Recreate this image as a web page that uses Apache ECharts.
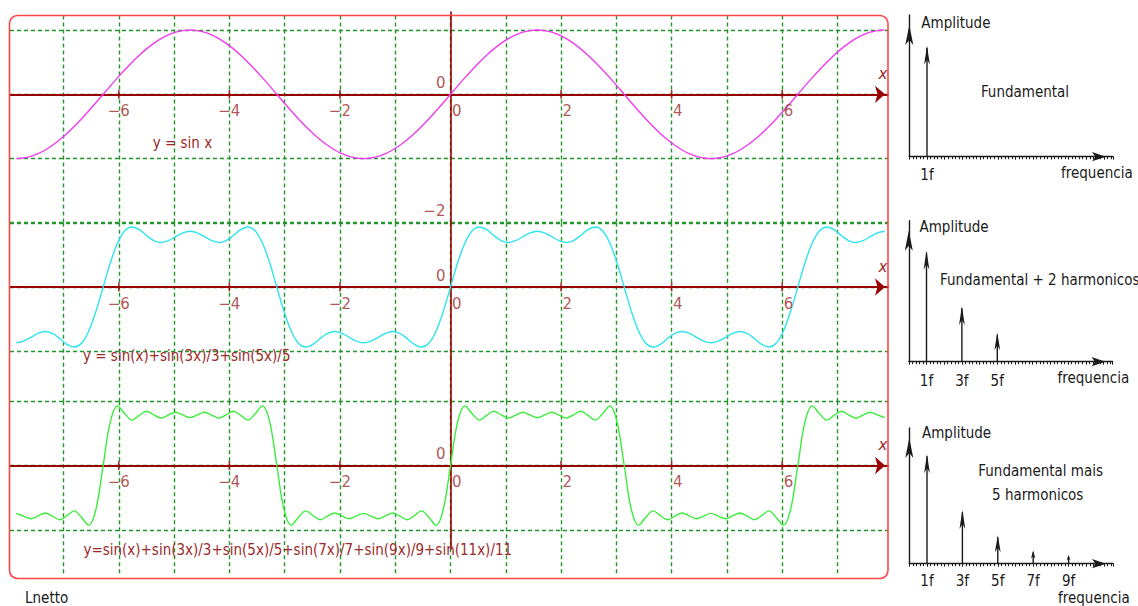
<!DOCTYPE html>
<html><head><meta charset="utf-8">
<script src="https://cdn.jsdelivr.net/npm/echarts@6/dist/echarts.min.js"></script>
<style>html,body{margin:0;padding:0;background:#fff}#c{width:1138px;height:606px}</style>
</head><body><div id="c"></div>
<script>
// ---- data (sampled every pi/24 from -5pi/2 to 5pi/2) ----
const X = [
-7.854,-7.723,-7.592,-7.461,-7.330,-7.199,-7.069,-6.938,-6.807,-6.676,-6.545,-6.414,-6.283,
-6.152,-6.021,-5.890,-5.760,-5.629,-5.498,-5.367,-5.236,-5.105,-4.974,-4.843,-4.712,-4.581,-4.451,-4.320,-4.189,-4.058,-3.927,-3.796,-3.665,-3.534,-3.403,-3.272,-3.142,
-3.011,-2.880,-2.749,-2.618,-2.487,-2.356,-2.225,-2.094,-1.963,-1.833,-1.702,-1.571,-1.440,-1.309,-1.178,-1.047,-0.916,-0.785,-0.654,-0.524,-0.393,-0.262,-0.131,0,
0.131,0.262,0.393,0.524,0.654,0.785,0.916,1.047,1.178,1.309,1.440,1.571,1.702,1.833,1.963,2.094,2.225,2.356,2.487,2.618,2.749,2.880,3.011,3.142,
3.272,3.403,3.534,3.665,3.796,3.927,4.058,4.189,4.320,4.451,4.581,4.712,4.843,4.974,5.105,5.236,5.367,5.498,5.629,5.760,5.890,6.021,6.152,6.283,
6.414,6.545,6.676,6.807,6.938,7.069,7.199,7.330,7.461,7.592,7.723,7.854];

const SIN_Y = [
-1,-0.991,-0.966,-0.924,-0.866,-0.793,-0.707,-0.609,-0.5,-0.383,-0.259,-0.131,0,
0.131,0.259,0.383,0.5,0.609,0.707,0.793,0.866,0.924,0.966,0.991,1,0.991,0.966,0.924,0.866,0.793,0.707,0.609,0.5,0.383,0.259,0.131,0,
-0.131,-0.259,-0.383,-0.5,-0.609,-0.707,-0.793,-0.866,-0.924,-0.966,-0.991,-1,-0.991,-0.966,-0.924,-0.866,-0.793,-0.707,-0.609,-0.5,-0.383,-0.259,-0.131,0,
0.131,0.259,0.383,0.5,0.609,0.707,0.793,0.866,0.924,0.966,0.991,1,0.991,0.966,0.924,0.866,0.793,0.707,0.609,0.5,0.383,0.259,0.131,0,
-0.131,-0.259,-0.383,-0.5,-0.609,-0.707,-0.793,-0.866,-0.924,-0.966,-0.991,-1,-0.991,-0.966,-0.924,-0.866,-0.793,-0.707,-0.609,-0.5,-0.383,-0.259,-0.131,0,
0.131,0.259,0.383,0.5,0.609,0.707,0.793,0.866,0.924,0.966,0.991,1];

const H3_Y = [
-0.867,-0.842,-0.782,-0.72,-0.693,-0.723,-0.801,-0.891,-0.933,-0.876,-0.688,-0.38,0,
0.38,0.688,0.876,0.933,0.891,0.801,0.723,0.693,0.72,0.782,0.842,0.867,0.842,0.782,0.72,0.693,0.723,0.801,0.891,0.933,0.876,0.688,0.38,0,
-0.38,-0.688,-0.876,-0.933,-0.891,-0.801,-0.723,-0.693,-0.72,-0.782,-0.842,-0.867,-0.842,-0.782,-0.72,-0.693,-0.723,-0.801,-0.891,-0.933,-0.876,-0.688,-0.38,0,
0.38,0.688,0.876,0.933,0.891,0.801,0.723,0.693,0.72,0.782,0.842,0.867,0.842,0.782,0.72,0.693,0.723,0.801,0.891,0.933,0.876,0.688,0.38,0,
-0.38,-0.688,-0.876,-0.933,-0.891,-0.801,-0.723,-0.693,-0.72,-0.782,-0.842,-0.867,-0.842,-0.782,-0.72,-0.693,-0.723,-0.801,-0.891,-0.933,-0.876,-0.688,-0.38,0,
0.38,0.688,0.876,0.933,0.891,0.801,0.723,0.693,0.72,0.782,0.842,0.867];

const H6_Y = [
-0.744,-0.786,-0.828,-0.784,-0.738,-0.789,-0.843,-0.779,-0.705,-0.804,-0.928,-0.686,0,
0.686,0.928,0.804,0.705,0.779,0.843,0.789,0.738,0.784,0.828,0.786,0.744,0.786,0.828,0.784,0.738,0.789,0.843,0.779,0.705,0.804,0.928,0.686,0,
-0.686,-0.928,-0.804,-0.705,-0.779,-0.843,-0.789,-0.738,-0.784,-0.828,-0.786,-0.744,-0.786,-0.828,-0.784,-0.738,-0.789,-0.843,-0.779,-0.705,-0.804,-0.928,-0.686,0,
0.686,0.928,0.804,0.705,0.779,0.843,0.789,0.738,0.784,0.828,0.786,0.744,0.786,0.828,0.784,0.738,0.789,0.843,0.779,0.705,0.804,0.928,0.686,0,
-0.686,-0.928,-0.804,-0.705,-0.779,-0.843,-0.789,-0.738,-0.784,-0.828,-0.786,-0.744,-0.786,-0.828,-0.784,-0.738,-0.789,-0.843,-0.779,-0.705,-0.804,-0.928,-0.686,0,
0.686,0.928,0.804,0.705,0.779,0.843,0.789,0.738,0.784,0.828,0.786,0.744];

const GRID_X = [-7,-6,-5,-4,-3,-2,-1,0,1,2,3,4,5,6,7];
const X_LABELS = [-6,-4,-2,0,2,4,6];
const X_TICKS = [-6,-4,-2,2,4,6];
const GRID_Y1 = [-2,-1,0,1];
const GRID_Y23 = [-1,0,1];
const Y_LABELS1 = [0,-2];
const Y_LABELS23 = [0];

const SPEC1_F = [1];          const SPEC1_A = [1];
const SPEC2_F = [1,3,5];      const SPEC2_A = [1,0.5,0.26];
const SPEC3_F = [1,3,5,7,9];  const SPEC3_A = [1,0.49,0.26,0.12,0.08];

// ---- styles ----
const AXIS_RED = '#990000';
const TXT_RED = '#9b2a2a';
const GRID_GREEN = '#22962a';
const INK = '#1a1a1a';
const FT = 'DejaVu Sans';
const FC = 'DejaVu Sans Condensed';
const XMIN = -7.968, XMAX = 7.914;

const chart = echarts.init(document.getElementById('c'), null, {renderer: 'svg'});

function fmtX(v) { return v < 0 ? '\u2212' + (-v) : '{h|\u2212}' + v; }
function fmtY(v) { return v < 0 ? '\u2212' + (-v) : String(v); }
const gridLine = {show: true, lineStyle: {color: GRID_GREEN, width: 1.4, type: [4, 3]}};

function plotX(gi) {
  return {
    type: 'value', gridIndex: gi, min: XMIN, max: XMAX,
    axisLine: {show: true, onZero: true, lineStyle: {color: AXIS_RED, width: 1.8},
      symbol: ['none', 'arrow'], symbolSize: [13, 10], symbolOffset: [0, -3]},
    axisTick: {show: false, customValues: GRID_X},
    axisLabel: {show: false},
    splitLine: gridLine,
    name: 'x', nameLocation: 'end', nameGap: -5, nameMoveOverlap: false,
    nameTextStyle: {color: TXT_RED, fontFamily: FT, fontSize: 15, fontStyle: 'italic',
      align: 'center', verticalAlign: 'bottom', padding: [0, 0, 13, 0]}
  };
}
function plotY(gi, min, max, gridVals) {
  return {
    type: 'value', gridIndex: gi, min: min, max: max,
    axisLine: {show: false, onZero: true},
    axisTick: {show: false, customValues: gridVals},
    axisLabel: {show: false},
    splitLine: gridLine
  };
}
function specX(gi, labels, labelMargin, nameGap, namePad) {
  return {
    type: 'value', gridIndex: gi, min: 0, max: 11.51, interval: 1,
    axisLine: {show: true, onZero: true, lineStyle: {color: INK, width: 1.4},
      symbol: ['none', 'arrow'], symbolSize: [7, 14], symbolOffset: [0, -7]},
    axisTick: {show: true, length: 3, lineStyle: {color: INK, width: 1}},
    minorTick: {show: true, splitNumber: 5, length: 2.5, lineStyle: {color: INK, width: 1}},
    axisLabel: {show: true, customValues: labels, formatter: v => v + 'f', margin: labelMargin,
      fontFamily: FC, fontSize: 15, color: INK},
    splitLine: {show: false},
    name: 'frequencia', nameLocation: 'end', nameGap: nameGap, nameMoveOverlap: false,
    nameTextStyle: {fontFamily: FC, fontSize: 15, color: INK, align: 'left', verticalAlign: 'top',
      lineHeight: 16, padding: [namePad, 0, 0, 0]}
  };
}
function specY(gi, max, nameGap, padLeft) {
  return {
    type: 'value', gridIndex: gi, min: 0, max: max,
    axisLine: {show: true, onZero: true, lineStyle: {color: INK, width: 1.4},
      symbol: ['none', 'arrow'], symbolSize: [6, 20], symbolOffset: [0, -10]},
    axisTick: {show: false}, axisLabel: {show: false}, splitLine: {show: false},
    name: 'Amplitude', nameLocation: 'end', nameGap: nameGap, nameMoveOverlap: false,
    nameTextStyle: {fontFamily: FC, fontSize: 15, color: INK, align: 'left', verticalAlign: 'middle',
      padding: [0, 0, 0, padLeft]}
  };
}
function spikeRender(params, api) {
  const b = api.coord([api.value(0), 0]);
  const t = api.coord([api.value(0), api.value(1)]);
  const len = b[1] - t[1];
  const ah = Math.min(19, len * 0.6);
  const aw = Math.min(2.9, 1.2 + ah * 0.12);
  return {type: 'group', children: [
    {type: 'line', shape: {x1: b[0], y1: b[1], x2: t[0], y2: t[1] + 2},
      style: {stroke: INK, lineWidth: 1.4}},
    {type: 'polygon', shape: {points: [[t[0], t[1]], [t[0] + aw, t[1] + ah], [t[0], t[1] + ah * 0.72], [t[0] - aw, t[1] + ah]]},
      style: {fill: INK}}
  ]};
}
function curve(xi, ys, color) {
  return {type: 'line', xAxisIndex: xi, yAxisIndex: xi, data: X.map((x, i) => [x, ys[i]]),
    showSymbol: false, symbol: 'none', smooth: 0.35, silent: true,
    lineStyle: {color: color, width: 1.4}, z: 3};
}
function ticks(xi) {
  return {type: 'scatter', xAxisIndex: xi, yAxisIndex: xi, data: X_TICKS.map(v => [v, 0]),
    symbol: 'rect', symbolSize: [1.6, 9], itemStyle: {color: AXIS_RED}, silent: true, z: 2};
}
function xLabels(xi) {
  return {type: 'scatter', xAxisIndex: xi, yAxisIndex: xi, data: X_LABELS.map(v => [v, 0]),
    symbol: 'circle', symbolSize: 0.01, itemStyle: {color: 'rgba(0,0,0,0)'}, silent: true, z: 4,
    label: {show: true, position: 'bottom', distance: 9, formatter: p => fmtX(p.value[0]),
      fontFamily: FT, fontSize: 15, color: TXT_RED,
      rich: {h: {color: 'rgba(0,0,0,0)', fontFamily: FT, fontSize: 15}}}};
}
function yLabels(xi, vals) {
  return {type: 'scatter', xAxisIndex: xi, yAxisIndex: xi, data: vals.map(v => [0, v]),
    symbol: 'circle', symbolSize: 0.01, itemStyle: {color: 'rgba(0,0,0,0)'}, silent: true, z: 4,
    clip: false,
    label: {show: true, position: 'left', distance: 5, offset: [0, -11.5], formatter: p => fmtY(p.value[1]),
      fontFamily: FT, fontSize: 15, color: TXT_RED}};
}
function spikes(xi, fs, as) {
  return {type: 'custom', xAxisIndex: xi, yAxisIndex: xi, data: fs.map((f, i) => [f, as[i]]),
    encode: {x: 0, y: 1}, renderItem: spikeRender, silent: true, clip: false};
}
function txt(s, x, y, align, color) {
  return {type: 'text', x: x, y: y, silent: true, z: 50,
    style: {text: s, fill: color, fontFamily: FC, fontSize: 15, align: align, verticalAlign: 'middle'}};
}

const option = {
  animation: false,
  backgroundColor: '#ffffff',
  grid: [
    {left: 10, top: 15.5, width: 878, height: 207.4},
    {left: 10, top: 222.7, width: 878, height: 178.5},
    {left: 10, top: 401.2, width: 878, height: 174.8},
    {left: 909.3, top: 15, width: 203.7, height: 141.7},
    {left: 908.8, top: 220.7, width: 203.7, height: 141},
    {left: 909.3, top: 428, width: 203.7, height: 137.7},
    {left: 10, top: 12, width: 878, height: 537}
  ],
  xAxis: [
    plotX(0), plotX(1), plotX(2),
    specX(3, SPEC1_F, 11, -52, 8.6),
    specX(4, SPEC2_F, 12, -55, 8.3),
    specX(5, SPEC3_F, 10, -55, 26.3),
    {type: 'value', gridIndex: 6, min: XMIN, max: XMAX, show: false}
  ],
  yAxis: [
    plotY(0, -2, 1.2255, GRID_Y1),
    plotY(1, -1.776, 1, GRID_Y23),
    plotY(2, -1.7185, 1, GRID_Y23),
    specY(3, 1.2766, -8.3, 12),
    specY(4, 1.270, -6.6, 10.7),
    specY(5, 1.2405, -5.3, 12.7),
    {type: 'value', gridIndex: 6, min: 0, max: 1,
      axisLine: {show: true, onZero: true, lineStyle: {color: AXIS_RED, width: 1.6}},
      axisTick: {show: false}, axisLabel: {show: false}, splitLine: {show: false}}
  ],
  series: [
    curve(0, SIN_Y, '#f03cf0'),
    curve(1, H3_Y, '#30e4ee'),
    curve(2, H6_Y, '#3cec3c'),
    ticks(0), ticks(1), ticks(2),
    xLabels(0), xLabels(1), xLabels(2),
    yLabels(0, Y_LABELS1), yLabels(1, Y_LABELS23), yLabels(2, Y_LABELS23),
    spikes(3, SPEC1_F, SPEC1_A),
    spikes(4, SPEC2_F, SPEC2_A),
    spikes(5, SPEC3_F, SPEC3_A)
  ],
  graphic: [
    {type: 'rect', silent: true, z: 100, shape: {x: 9.5, y: 15.5, width: 878.5, height: 563, r: 8},
      style: {fill: 'none', stroke: '#ff4545', lineWidth: 1.6}},
    txt('y = sin x', 152.7, 143, 'left', TXT_RED),
    txt('y = sin(x)+sin(3x)/3+sin(5x)/5', 83, 356, 'left', TXT_RED),
    txt('y=sin(x)+sin(3x)/3+sin(5x)/5+sin(7x)/7+sin(9x)/9+sin(11x)/11', 83.4, 550, 'left', TXT_RED),
    txt('Fundamental', 1025, 92, 'center', INK),
    txt('Fundamental + 2 harmonicos', 940, 280, 'left', INK),
    txt('Fundamental mais', 1040.7, 470.7, 'center', INK),
    txt('5 harmonicos', 1037.7, 495, 'center', INK),
    txt('Lnetto', 25, 598, 'left', INK)
  ]
};
chart.setOption(option);
</script>
</body></html>
